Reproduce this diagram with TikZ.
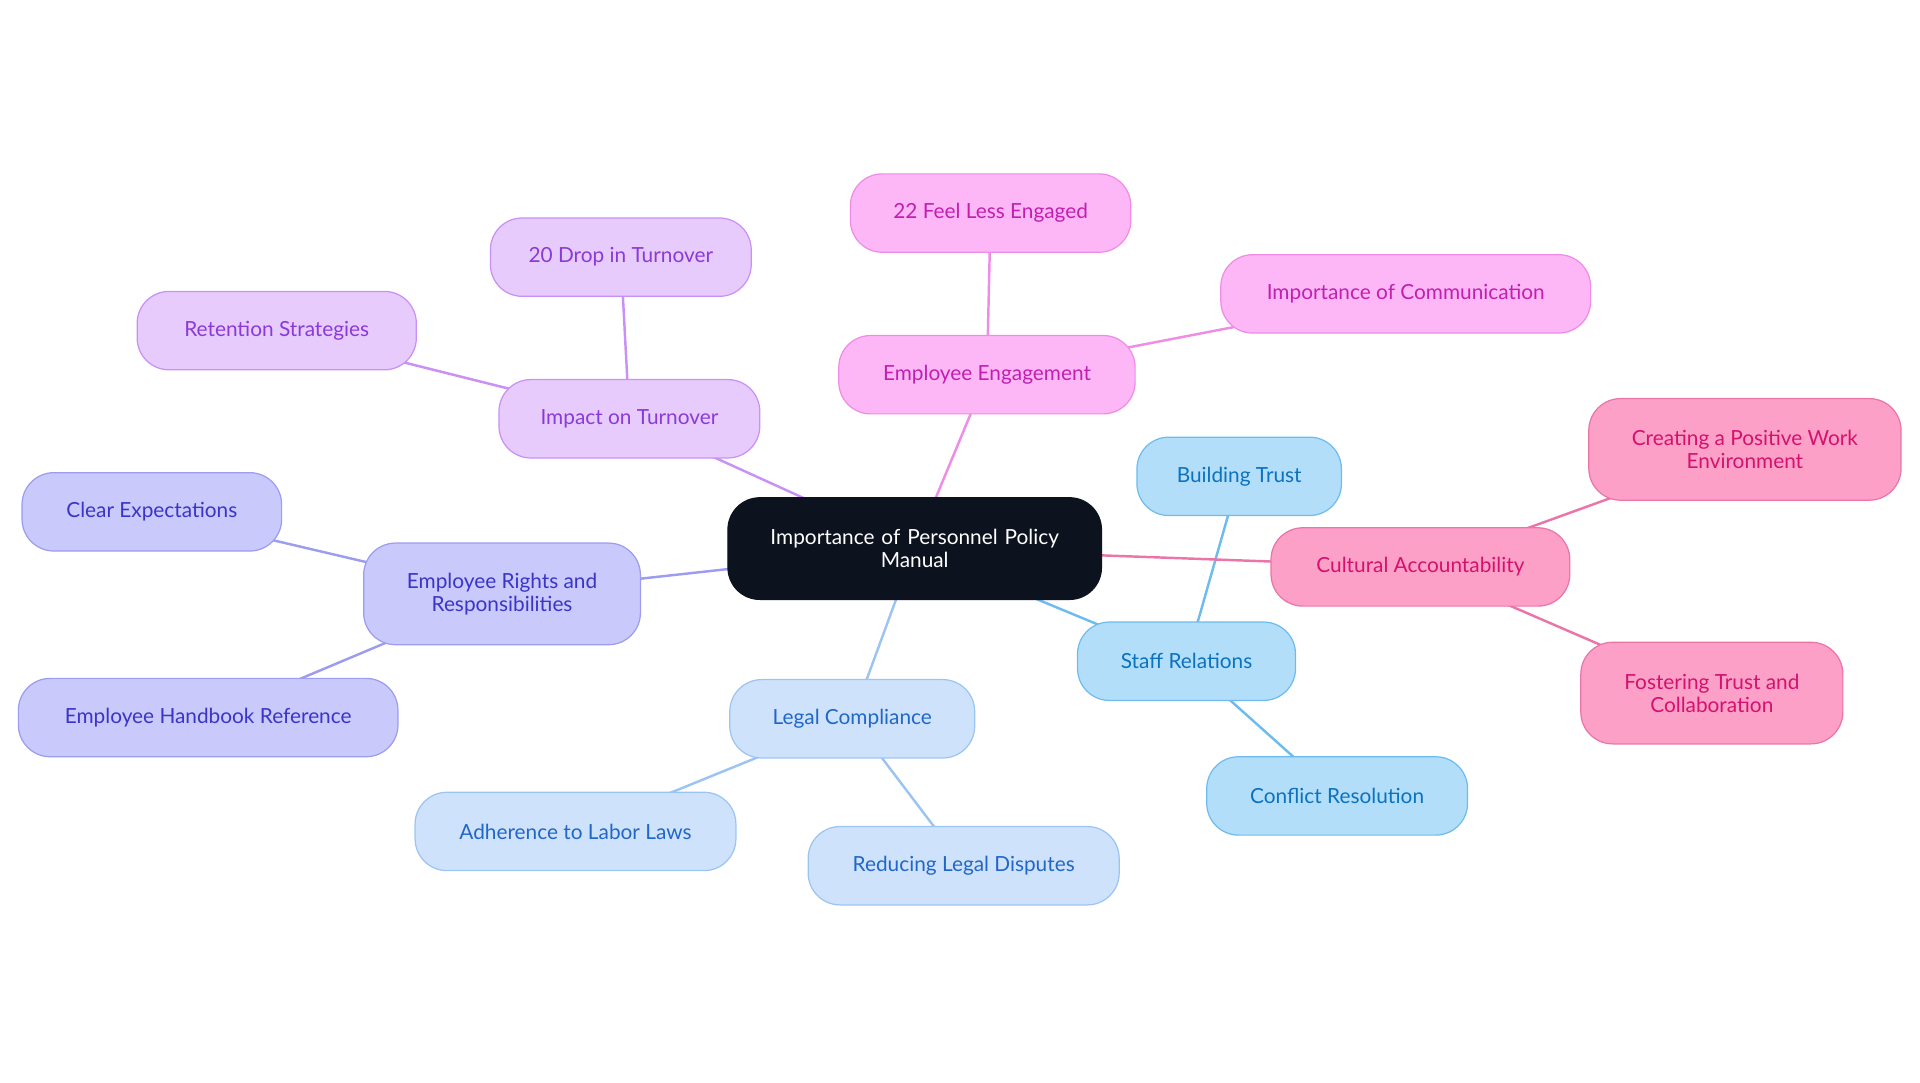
\documentclass[tikz,border=0pt]{standalone}
\usepackage{fontspec}
\setmainfont{Lato}
\begin{document}
\begin{tikzpicture}[x=1pt,y=-1pt,
  box/.style={draw, line width=1pt, rounded corners=26pt, minimum height=64pt, align=center, font=\fontsize{17}{19}\selectfont, inner sep=0pt},
  tall/.style={minimum height=83pt},
  pu/.style={box, fill=pufill, draw=puline, text=putext},
  mg/.style={box, fill=mgfill, draw=mgline, text=mgtext},
  ib/.style={box, fill=infill, draw=inline, text=intext},
  lb/.style={box, fill=lbfill, draw=lbline, text=lbtext},
  sb/.style={box, fill=sbfill, draw=sbline, text=sbtext},
  pk/.style={box, fill=pkfill, draw=pkline, text=pktext},
  ed/.style={line width=2pt}]
\definecolor{pufill}{HTML}{E6CBFC}\definecolor{puline}{HTML}{C990F5}\definecolor{putext}{HTML}{8A3AD8}
\definecolor{mgfill}{HTML}{FDB7F6}\definecolor{mgline}{HTML}{EE8CE6}\definecolor{mgtext}{HTML}{C21FB0}
\definecolor{infill}{HTML}{C9C9FC}\definecolor{inline}{HTML}{9C9CF0}\definecolor{intext}{HTML}{3A35C8}
\definecolor{lbfill}{HTML}{CFE2FB}\definecolor{lbline}{HTML}{9CC4F2}\definecolor{lbtext}{HTML}{2167C9}
\definecolor{sbfill}{HTML}{B3DEF9}\definecolor{sbline}{HTML}{6EBCEF}\definecolor{sbtext}{HTML}{0B72C0}
\definecolor{pkfill}{HTML}{FCA0C8}\definecolor{pkline}{HTML}{EB74A8}\definecolor{pktext}{HTML}{D4116E}
\definecolor{dark}{HTML}{0D131E}
\useasboundingbox (0,0) rectangle (1568,884);
\coordinate (c) at (747,448);
\coordinate (ee) at (806,306); \coordinate (fe) at (809,174); \coordinate (ic) at (1148,240);
\coordinate (it) at (514,342); \coordinate (dt) at (507,210); \coordinate (rs) at (226,270);
\coordinate (er) at (410,485); \coordinate (ce) at (124,418); \coordinate (eh) at (170,586);
\coordinate (lc) at (696,587); \coordinate (al) at (470,679); \coordinate (rl) at (787,707);
\coordinate (sr) at (969,540); \coordinate (bt) at (1012,389); \coordinate (cr) at (1092,650);
\coordinate (ca) at (1160,463); \coordinate (cp) at (1425,367); \coordinate (ft) at (1398,566);
\draw[ed,mgline] (c)--(ee) (ee)--(fe) (ee)--(ic);
\draw[ed,puline] (c)--(it) (it)--(dt) (it)--(rs);
\draw[ed,inline] (c)--(er) (er)--(ce) (er)--(eh);
\draw[ed,lbline] (c)--(lc) (lc)--(al) (lc)--(rl);
\draw[ed,sbline] (c)--(sr) (sr)--(bt) (sr)--(cr);
\draw[ed,pkline] (c)--(ca) (ca)--(cp) (ca)--(ft);
\node[box,tall,fill=dark,draw=dark,text=white,minimum width=305pt,text width=280pt] (n0) at (c) {Importance of Personnel Policy\\Manual};
\node[mg,minimum width=242pt] (n1) at (ee) {Employee Engagement};
\node[mg,minimum width=229pt] (n2) at (fe) {22 Feel Less Engaged};
\node[mg,minimum width=302pt] (n3) at (ic) {Importance of Communication};
\node[pu,minimum width=213pt] (n4) at (it) {Impact on Turnover};
\node[pu,minimum width=213pt] (n5) at (dt) {20 Drop in Turnover};
\node[pu,minimum width=228pt] (n6) at (rs) {Retention Strategies};
\node[ib,tall,minimum width=226pt] (n7) at (er) {Employee Rights and\\Responsibilities};
\node[ib,minimum width=212pt] (n8) at (ce) {Clear Expectations};
\node[ib,minimum width=310pt] (n9) at (eh) {Employee Handbook Reference};
\node[lb,minimum width=200pt] (n10) at (lc) {Legal Compliance};
\node[lb,minimum width=262pt] (n11) at (al) {Adherence to Labor Laws};
\node[lb,minimum width=254pt] (n12) at (rl) {Reducing Legal Disputes};
\node[sb,minimum width=178pt] (n13) at (sr) {Staff Relations};
\node[sb,minimum width=167pt] (n14) at (bt) {Building Trust};
\node[sb,minimum width=213pt] (n15) at (cr) {Conflict Resolution};
\node[pk,minimum width=244pt] (n16) at (ca) {Cultural Accountability};
\node[pk,tall,minimum width=255pt] (n17) at (cp) {Creating a Positive Work\\Environment};
\node[pk,tall,minimum width=214pt] (n18) at (ft) {Fostering Trust and\\Collaboration};
\end{tikzpicture}
\end{document}
